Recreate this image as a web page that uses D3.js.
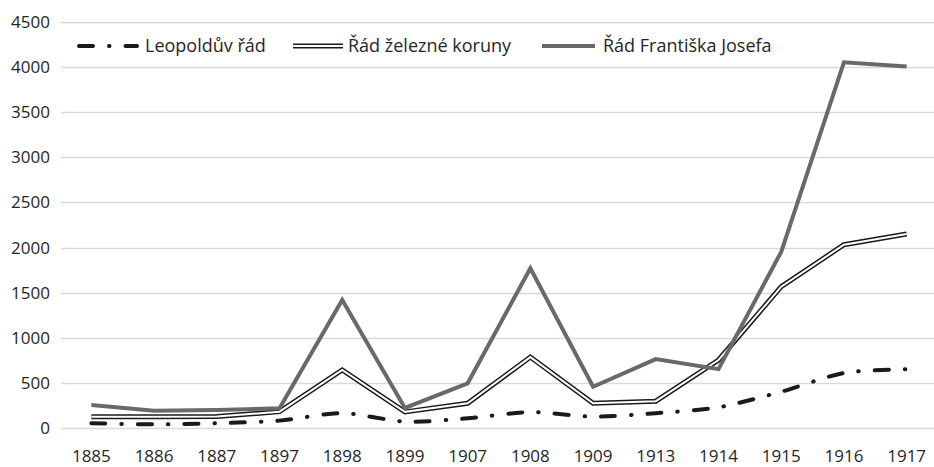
<!DOCTYPE html>
<html>
<head>
<meta charset="utf-8">
<style>
  body { margin: 0; background: #fff; }
  svg text { font-family: "Open Sans", "Noto Sans", sans-serif; fill: #262626; }
</style>
</head>
<body>
<svg width="934" height="467"></svg>
<script src="https://d3js.org/d3.v7.min.js"></script>
<script>
// years on the category axis
var years = ["1885", "1886", "1887", "1897", "1898", "1899", "1907", "1908", "1909", "1913", "1914", "1915", "1916", "1917"];

// values
var leopold = [56, 44, 56, 85, 168, 74, 110, 180, 129, 167, 232, 405, 612, 653];
var zelezna = [128, 128, 130, 184, 645, 182, 277, 788, 277, 300, 756, 1567, 2032, 2150];
var frantisek = [258, 195, 202, 221, 1420, 225, 498, 1771, 460, 766, 655, 1953, 4050, 4005];

var seriesNames = ["Leopoldův řád", "Řád železné koruny", "Řád Františka Josefa"];
var yTicks = [0, 500, 1000, 1500, 2000, 2500, 3000, 3500, 4000, 4500];

var svg = d3.select("svg");

var x = d3.scalePoint()
    .domain(years)
    .range([60, 938])
    .padding(0.5);

var y = d3.scaleLinear()
    .domain([0, 4500])
    .range([428.3, 21.7]);

// gridlines
svg.append("g")
    .selectAll("line")
    .data(yTicks)
    .enter().append("line")
    .attr("x1", 61)
    .attr("x2", 934)
    .attr("y1", function (d) { return Math.round(y(d)) + 0.5; })
    .attr("y2", function (d) { return Math.round(y(d)) + 0.5; })
    .attr("stroke", "#d9d9d9")
    .attr("stroke-width", 1.3);

// y labels
svg.append("g")
    .selectAll("text")
    .data(yTicks)
    .enter().append("text")
    .attr("x", 50)
    .attr("y", function (d) { return y(d); })
    .attr("dy", "0.35em")
    .attr("text-anchor", "end")
    .style("font-size", "17px")
    .text(function (d) { return d; });

// x labels
svg.append("g")
    .selectAll("text")
    .data(years)
    .enter().append("text")
    .attr("x", function (d) { return x(d); })
    .attr("y", 462)
    .attr("text-anchor", "middle")
    .style("font-size", "17px")
    .text(function (d) { return d; });

var straight = d3.line()
    .x(function (d, i) { return x(years[i]); })
    .y(function (d) { return y(d); });

var smooth = d3.line()
    .x(function (d, i) { return x(years[i]); })
    .y(function (d) { return y(d); })
    .curve(d3.curveCardinal.tension(0.2));

// styles for each series, also used in the legend
function styleLeopold(sel) {
    sel.attr("fill", "none")
        .attr("stroke", "#1a1a1a")
        .attr("stroke-width", 4)
        .attr("stroke-linecap", "round")
        .attr("stroke-dasharray", "14 16 0.5 16");
}
function styleOuter(sel) {
    sel.attr("fill", "none").attr("stroke", "#1a1a1a").attr("stroke-width", 5).attr("stroke-linejoin", "miter");
}
function styleInner(sel) {
    sel.attr("fill", "none").attr("stroke", "#fff").attr("stroke-width", 2).attr("stroke-linejoin", "miter");
}
function styleGray(sel) {
    sel.attr("fill", "none").attr("stroke", "#696969").attr("stroke-width", 4).attr("stroke-linejoin", "miter");
}

svg.append("path").attr("d", smooth(leopold)).call(styleLeopold);
svg.append("path").attr("d", straight(zelezna)).call(styleOuter);
svg.append("path").attr("d", straight(zelezna)).call(styleInner);
svg.append("path").attr("d", straight(frantisek)).call(styleGray);

// legend
var lg = svg.append("g");
var ly = 46;

lg.append("line").attr("x1", 79).attr("x2", 137).attr("y1", ly).attr("y2", ly).call(styleLeopold);
lg.append("text").attr("x", 145).attr("y", 52).style("font-size", "18px").text(seriesNames[0]);

lg.append("line").attr("x1", 293).attr("x2", 343).attr("y1", ly).attr("y2", ly).call(styleOuter);
lg.append("line").attr("x1", 293).attr("x2", 343).attr("y1", ly).attr("y2", ly).call(styleInner);
lg.append("text").attr("x", 348).attr("y", 52).style("font-size", "18px").text(seriesNames[1]);

lg.append("line").attr("x1", 542).attr("x2", 595).attr("y1", ly).attr("y2", ly).call(styleGray);
lg.append("text").attr("x", 603).attr("y", 52).style("font-size", "18px").text(seriesNames[2]);
</script>
</body>
</html>
